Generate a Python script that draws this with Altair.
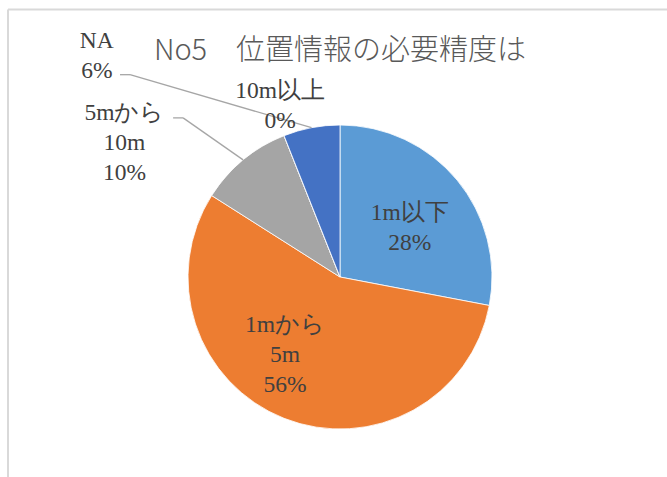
import altair as alt
import pandas as pd

# ---- data ----
categories = ["1m以下", "1mから5m", "5mから10m", "10m以上", "NA"]
percent = [28, 56, 10, 0, 6]
colors = ["#5B9BD5", "#ED7D31", "#A5A5A5", "#FFC000", "#4472C4"]
title_text = "No5\u3000位置情報の必要精度は"

df = pd.DataFrame({"cat": categories, "v": percent, "idx": list(range(len(categories)))})

# ---- layout ----
W, H = 654, 400
R = 152
LABEL_FONT = "Liberation Serif"
TXT = "#404040"

base = alt.Chart(df).encode(
    theta=alt.Theta("v:Q", stack=True),
    order=alt.Order("idx:Q", sort="ascending"),
)

pie = base.mark_arc(outerRadius=R, stroke="white", strokeWidth=0.8).encode(
    color=alt.Color("cat:N", scale=alt.Scale(domain=categories, range=colors), legend=None)
)

label_expr = "replace(datum.cat, 'から', 'から\\n') + '\\n' + datum.v + '%'"

# label placement: (category, radius, dx, dy)
placements = [
    ("1m以下", 88, 2, -8),
    ("1mから5m", 84, -24, -30),
    ("5mから10m", 175, -104, -29),
    ("10m以上", 184, 8, -15),
    ("NA", 225, -201, -15),
]

text_layers = []
for cat, rad, dx, dy in placements:
    t = base.transform_calculate(
        txt=f"datum.cat === '{cat}' ? ({label_expr}) : ''"
    ).mark_text(
        radius=rad, dx=dx, dy=dy, font=LABEL_FONT, fontSize=23.5, lineHeight=30,
        lineBreak="\n", align="center", baseline="middle", color=TXT,
    ).encode(text="txt:N")
    text_layers.append(t)

# leader lines, anchored on the slice edge at the slice mid-angle
lead = alt.Chart(df).transform_joinaggregate(
    total="sum(v)"
).transform_window(
    cum="sum(v)", sort=[alt.SortField("idx")], frame=[None, 0]
).transform_calculate(
    mid="2*PI*(datum.cum - datum.v/2)/datum.total",
    ex=f"{W/2} + {R}*sin(datum.mid)",
    ey=f"{H/2} - {R}*cos(datum.mid)",
    ox="datum.cat === 'NA' ? -181.5 : -60",
    oy="datum.cat === 'NA' ? -53 : -42",
).transform_calculate(
    bx="datum.ex + datum.ox",
    by="datum.ey + datum.oy",
    hx="datum.ex + datum.ox - 10",
).transform_filter(
    "datum.cat === 'NA' || datum.cat === '5mから10m'"
)

diag = lead.mark_rule(color="#A6A6A6", strokeWidth=1.3).encode(
    x=alt.X("ex:Q", scale=None, axis=None),
    y=alt.Y("ey:Q", scale=None, axis=None),
    x2="bx:Q",
    y2="by:Q",
)
horiz = lead.mark_rule(color="#A6A6A6", strokeWidth=1.3).encode(
    x=alt.X("bx:Q", scale=None, axis=None),
    x2="hx:Q",
    y=alt.Y("by:Q", scale=None, axis=None),
)

one = pd.DataFrame({"z": [0]})
frame_top = alt.Chart(one).mark_rule(color="#D9D9D9", strokeWidth=2).encode(
    x=alt.value(-5), x2=alt.value(W), y=alt.value(-67.5)
)
frame_left = alt.Chart(one).mark_rule(color="#D9D9D9", strokeWidth=2).encode(
    x=alt.value(-5), y=alt.value(-67.5), y2=alt.value(H)
)

title = alt.Chart(pd.DataFrame({"t": [title_text]})).mark_text(
    font="Noto Sans CJK JP", fontSize=29, fontWeight=300, color="#595959",
    align="center", baseline="alphabetic",
).encode(text="t:N", x=alt.value(W / 2), y=alt.value(-17))

chart = alt.layer(
    frame_top, frame_left, pie, diag, horiz, *text_layers, title
).properties(
    width=W,
    height=H,
    padding={"left": 13, "top": 77, "right": 0, "bottom": 0},
    autosize=alt.AutoSizeParams(type="none"),
).configure_view(stroke=None)

chart.save("out.html", embed_options={"renderer": "svg", "actions": False})
